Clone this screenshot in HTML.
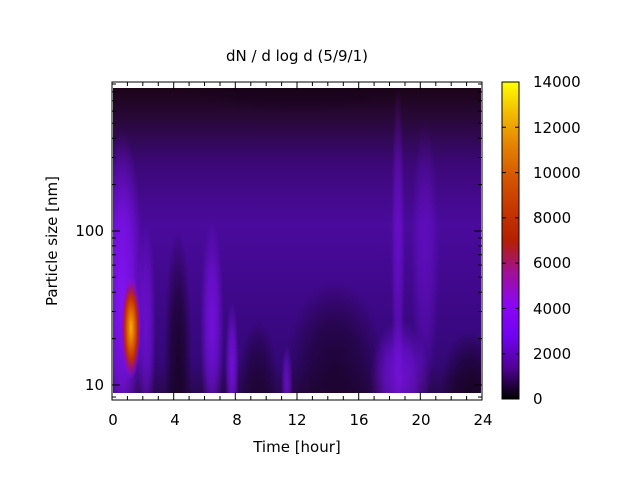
<!DOCTYPE html>
<html><head><style>
body{margin:0;background:#fff;}
svg text{font-family:"DejaVu Sans","Liberation Sans",sans-serif;font-size:15px;fill:#000;}
</style></head><body>
<svg width="640" height="480" viewBox="0 0 640 480" xmlns="http://www.w3.org/2000/svg">
<defs>
<linearGradient id="base" x1="0" y1="0" x2="0" y2="1">
<stop offset="0" stop-color="#1c0418"/>
<stop offset="0.1" stop-color="#280838"/>
<stop offset="0.25" stop-color="#3c0878"/>
<stop offset="0.45" stop-color="#4a0a9c"/>
<stop offset="0.7" stop-color="#3e0888"/>
<stop offset="0.9" stop-color="#340878"/>
<stop offset="1" stop-color="#2a0850"/>
</linearGradient>
<linearGradient id="cb" x1="0" y1="1" x2="0" y2="0">
<stop offset="0" stop-color="#000000"/>
<stop offset="0.1" stop-color="#510096"/>
<stop offset="0.2" stop-color="#7202f2"/>
<stop offset="0.3" stop-color="#8c07f2"/>
<stop offset="0.4" stop-color="#a11096"/>
<stop offset="0.5" stop-color="#b42000"/>
<stop offset="0.6" stop-color="#c63700"/>
<stop offset="0.7" stop-color="#d55700"/>
<stop offset="0.8" stop-color="#e48300"/>
<stop offset="0.9" stop-color="#f2ba00"/>
<stop offset="1" stop-color="#ffff00"/>
</linearGradient>
<radialGradient id="hot">
<stop offset="0" stop-color="#f4b000"/>
<stop offset="0.3" stop-color="#e07000"/>
<stop offset="0.6" stop-color="#c03000"/>
<stop offset="0.8" stop-color="#a01080" stop-opacity="0.8"/>
<stop offset="1" stop-color="#8a10ff" stop-opacity="0"/>
</radialGradient>
<radialGradient id="br">
<stop offset="0" stop-color="#8a14ff"/>
<stop offset="0.5" stop-color="#8a14ff" stop-opacity="0.7"/>
<stop offset="1" stop-color="#8a14ff" stop-opacity="0"/>
</radialGradient>
<radialGradient id="dk">
<stop offset="0" stop-color="#14021a"/>
<stop offset="0.5" stop-color="#14021a" stop-opacity="0.7"/>
<stop offset="1" stop-color="#14021a" stop-opacity="0"/>
</radialGradient>
<clipPath id="cp"><rect x="113" y="88" width="368" height="305"/></clipPath>
</defs>
<g clip-path="url(#cp)">
<rect x="113" y="88" width="368" height="305" fill="url(#base)"/>
<ellipse cx="122" cy="300" rx="22" ry="170" fill="url(#br)" opacity="0.9"/>
<ellipse cx="146" cy="330" rx="10" ry="110" fill="url(#br)" opacity="0.6"/>
<ellipse cx="178" cy="360" rx="14" ry="130" fill="url(#dk)" opacity="0.8"/>
<ellipse cx="212" cy="330" rx="12" ry="110" fill="url(#br)" opacity="0.7"/>
<ellipse cx="232" cy="370" rx="7" ry="70" fill="url(#br)" opacity="0.7"/>
<ellipse cx="258" cy="380" rx="20" ry="60" fill="url(#dk)" opacity="0.6"/>
<ellipse cx="287" cy="385" rx="6" ry="40" fill="url(#br)" opacity="0.6"/>
<ellipse cx="335" cy="370" rx="50" ry="90" fill="url(#dk)" opacity="0.7"/>
<ellipse cx="400" cy="380" rx="30" ry="60" fill="url(#br)" opacity="0.7"/>
<ellipse cx="398" cy="250" rx="7" ry="170" fill="url(#br)" opacity="0.45"/>
<ellipse cx="425" cy="260" rx="14" ry="140" fill="url(#br)" opacity="0.35"/>
<ellipse cx="470" cy="390" rx="30" ry="60" fill="url(#dk)" opacity="0.8"/>
<ellipse cx="300" cy="88" rx="120" ry="25" fill="url(#dk)" opacity="0.6"/>
<ellipse cx="131" cy="328" rx="10" ry="52" fill="url(#hot)"/>
</g>
<rect x="112" y="82" width="370" height="318" fill="none" stroke="#000" stroke-width="1"/>
<g stroke="#000" stroke-width="1">
<path d="M112,400v-8M112,82v8M173.7,400v-8M173.7,82v8M235.3,400v-8M235.3,82v8M297,400v-8M297,82v8M358.7,400v-8M358.7,82v8M420.3,400v-8M420.3,82v8M482,400v-8M482,82v8"/>
<path d="M127.4,400v-4M142.8,400v-4M158.3,400v-4M189.1,400v-4M204.5,400v-4M220,400v-4M250.8,400v-4M266.2,400v-4M281.6,400v-4M312.4,400v-4M327.8,400v-4M343.3,400v-4M374.1,400v-4M389.5,400v-4M405,400v-4M435.8,400v-4M451.2,400v-4M466.6,400v-4 M127.4,82v4M142.8,82v4M158.3,82v4M189.1,82v4M204.5,82v4M220,82v4M250.8,82v4M266.2,82v4M281.6,82v4M312.4,82v4M327.8,82v4M343.3,82v4M374.1,82v4M389.5,82v4M405,82v4M435.8,82v4M451.2,82v4M466.6,82v4"/>
<path d="M112,385h8M482,385h-8M112,231h8M482,231h-8"/>
<path d="M112,397h4M112,338.6h4M112,311.5h4M112,292.3h4M112,277.3h4M112,265.1h4M112,254.8h4M112,245.9h4M112,238h4M112,184.6h4M112,157.5h4M112,138.3h4M112,123.3h4M112,111.1h4M112,100.8h4M112,91.9h4M112,84h4
M482,397h-4M482,338.6h-4M482,311.5h-4M482,292.3h-4M482,277.3h-4M482,265.1h-4M482,254.8h-4M482,245.9h-4M482,238h-4M482,184.6h-4M482,157.5h-4M482,138.3h-4M482,123.3h-4M482,111.1h-4M482,100.8h-4M482,91.9h-4M482,84h-4"/>
</g>
<rect x="502" y="82" width="17" height="317" fill="url(#cb)"/>
<rect x="502" y="82" width="17" height="317" fill="none" stroke="#000"/>
<g stroke="#000"><path d="M502,353.7h4M519,353.7h-4M502,308.4h4M519,308.4h-4M502,263.1h4M519,263.1h-4M502,217.9h4M519,217.9h-4M502,172.6h4M519,172.6h-4M502,127.3h4M519,127.3h-4"/></g>
<g text-anchor="start">
<text x="533" y="404">0</text>
<text x="533" y="359">2000</text>
<text x="533" y="314">4000</text>
<text x="533" y="268">6000</text>
<text x="533" y="223">8000</text>
<text x="533" y="178">10000</text>
<text x="533" y="133">12000</text>
<text x="533" y="87">14000</text>
</g>
<g text-anchor="end">
<text x="104" y="236">100</text>
<text x="104" y="390">10</text>
</g>
<g text-anchor="middle">
<text x="113" y="425">0</text>
<text x="175" y="425">4</text>
<text x="237" y="425">8</text>
<text x="297" y="425">12</text>
<text x="359" y="425">16</text>
<text x="421" y="425">20</text>
<text x="483" y="425">24</text>
<text x="297" y="452">Time [hour]</text>
<text x="297" y="61">dN / d log d (5/9/1)</text>
<text transform="translate(57,241) rotate(-90)">Particle size [nm]</text>
</g>
</svg>
</body></html>
